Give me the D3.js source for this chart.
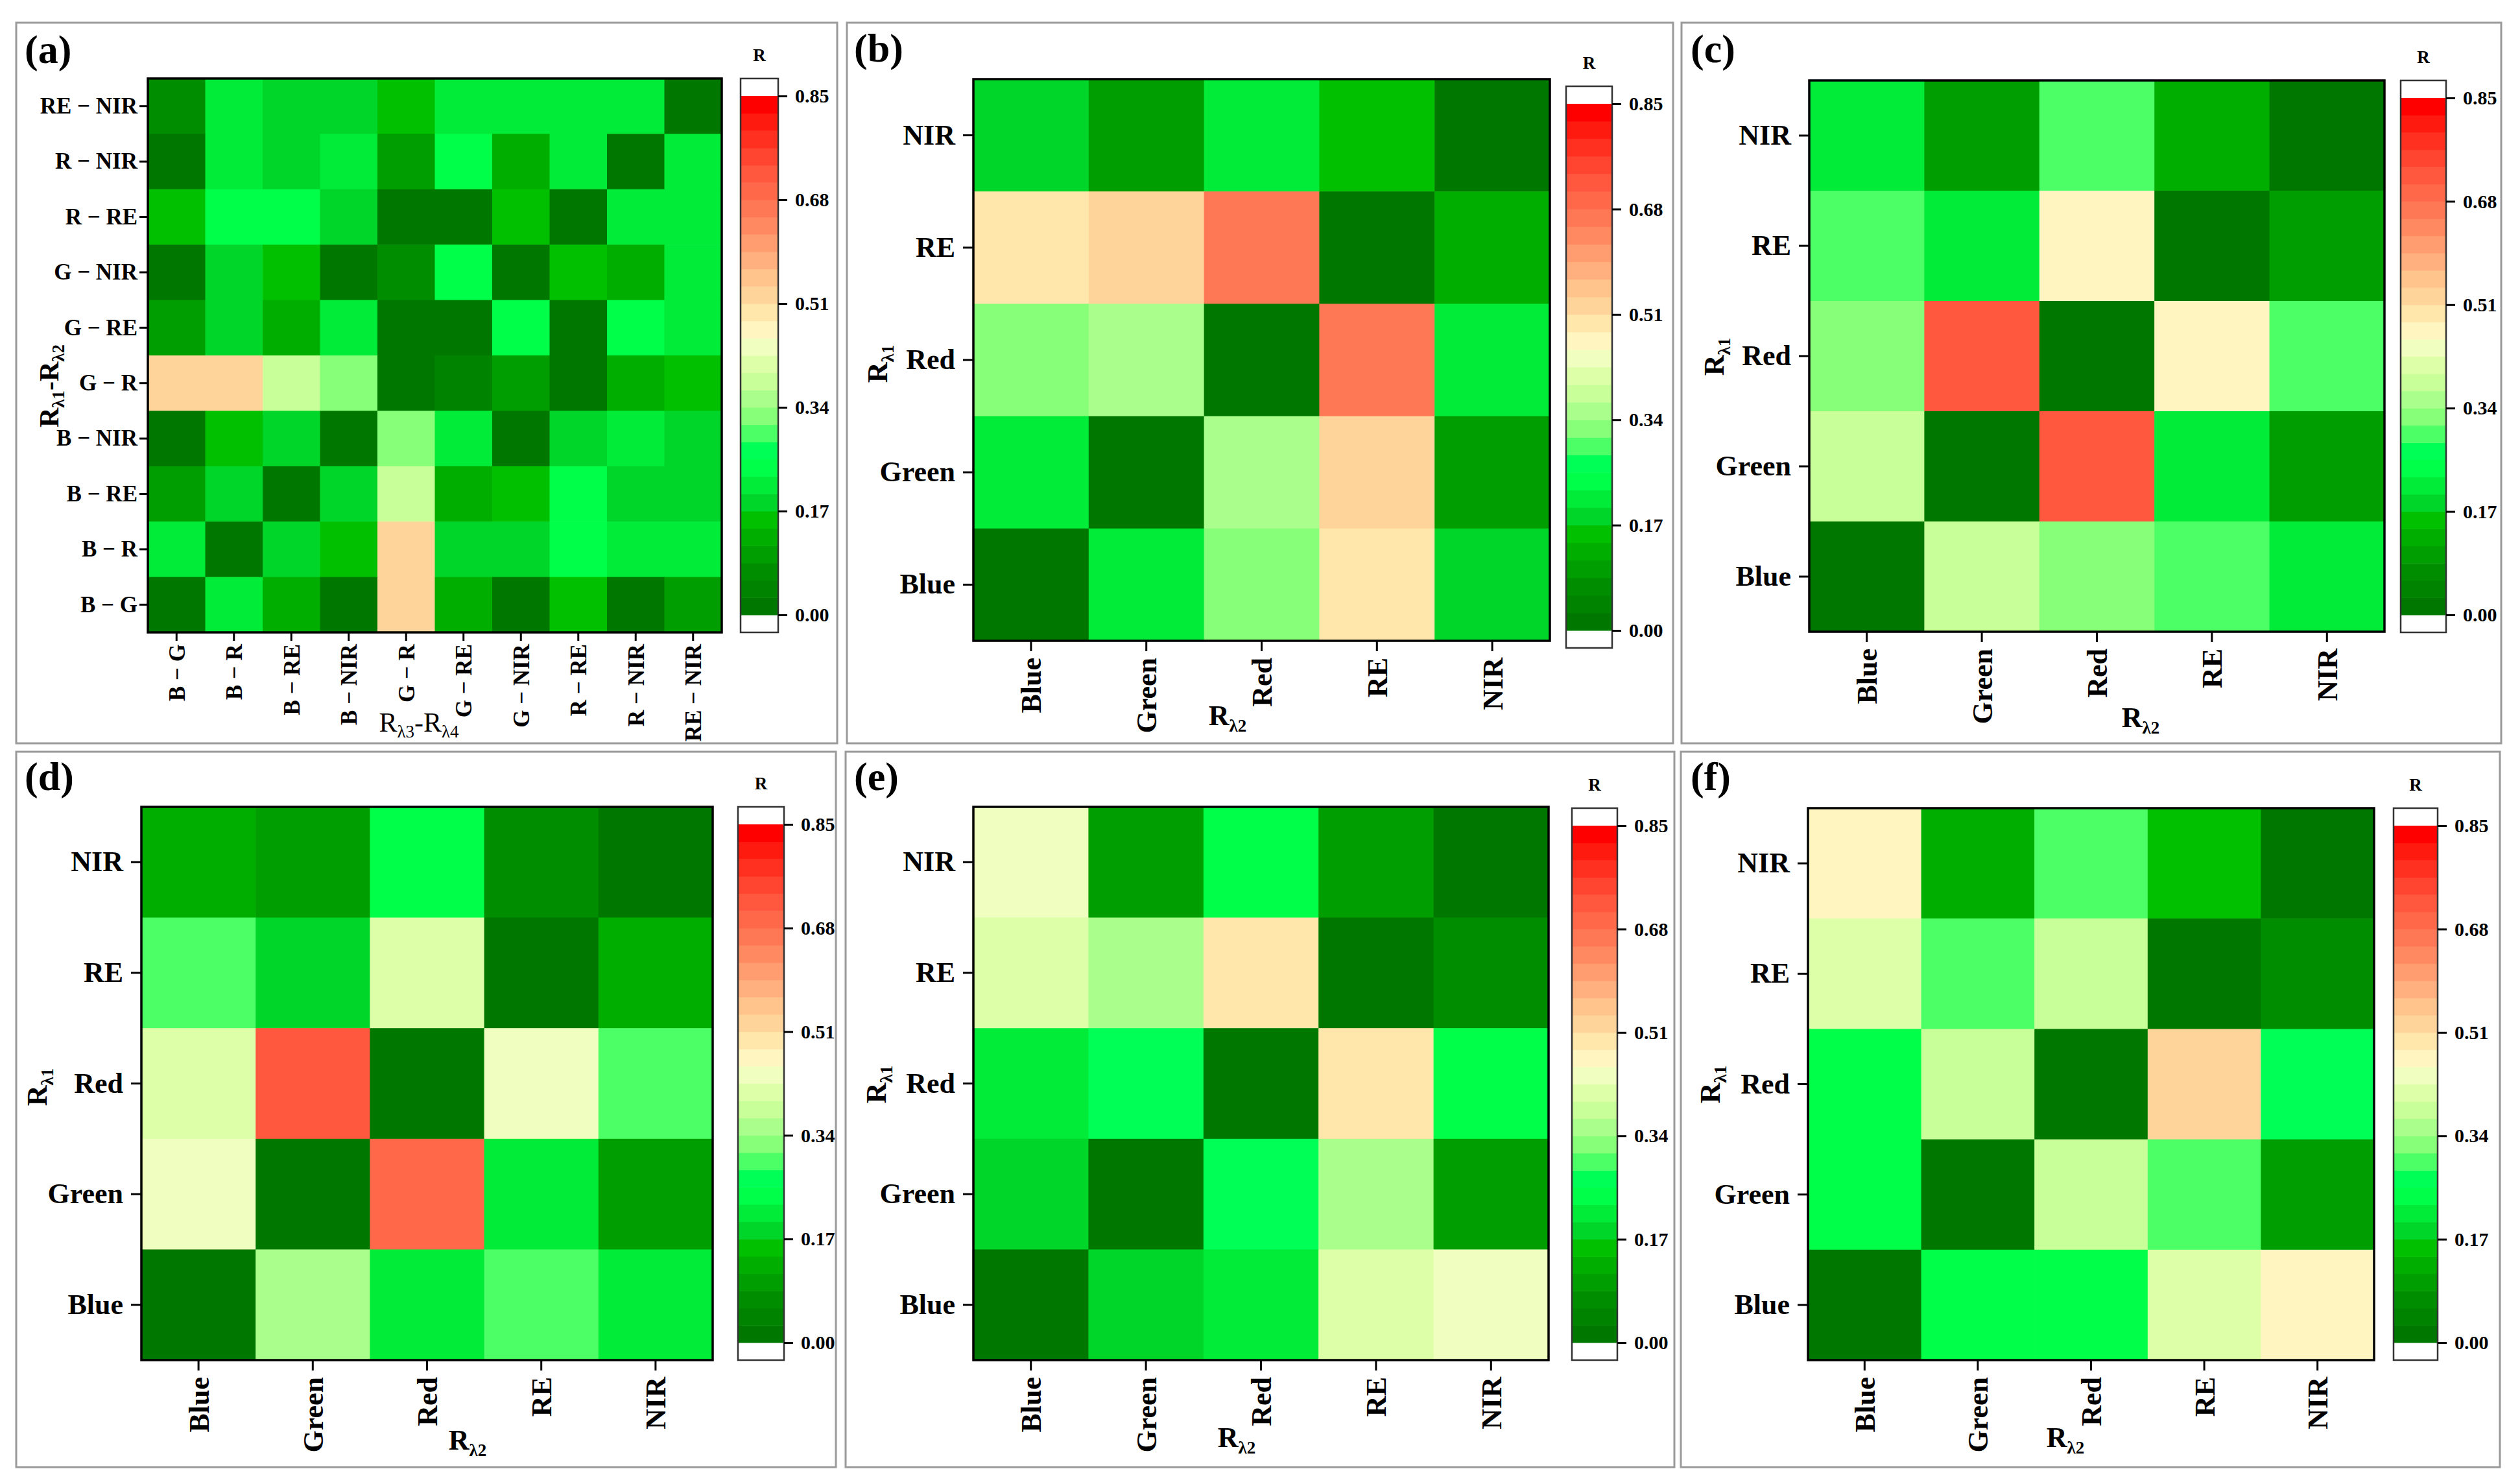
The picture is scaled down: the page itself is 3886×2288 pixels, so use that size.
<!DOCTYPE html>
<html><head><meta charset="utf-8">
<script src="https://cdn.jsdelivr.net/npm/d3@7"></script>
<style>
html,body{margin:0;padding:0;background:#fff;}
svg{display:block;}
text{font-family:"Liberation Serif","Times New Roman",serif;}
</style>
</head><body>
<svg id="chart" width="3886" height="2288"></svg>
<script>
// ---------------- DATA ----------------
const bands = ["Blue", "Green", "Red", "RE", "NIR"];
const bandPairs = ["B − G", "B − R", "B − RE", "B − NIR", "G − R", "G − RE", "G − NIR", "R − RE", "R − NIR", "RE − NIR"];
const colorbarTicks = [0.00, 0.17, 0.34, 0.51, 0.68, 0.85];
const rRange = [0, 0.85];
const panelLetters = ["(a)", "(b)", "(c)", "(d)", "(e)", "(f)"];

// rows listed top -> bottom, columns left -> right
const valuesA = [
  [0.07, 0.21, 0.19, 0.19, 0.16, 0.21, 0.21, 0.21, 0.21, 0.01], // RE − NIR
  [0.01, 0.21, 0.19, 0.22, 0.10, 0.24, 0.13, 0.21, 0.01, 0.21], // R − NIR
  [0.16, 0.24, 0.24, 0.19, 0.02, 0.02, 0.16, 0.01, 0.21, 0.21], // R − RE
  [0.01, 0.19, 0.16, 0.01, 0.07, 0.24, 0.01, 0.16, 0.13, 0.21], // G − NIR
  [0.10, 0.19, 0.13, 0.21, 0.02, 0.00, 0.24, 0.02, 0.24, 0.21], // G − RE
  [0.52, 0.52, 0.38, 0.32, 0.01, 0.04, 0.10, 0.02, 0.13, 0.16], // G − R
  [0.01, 0.16, 0.19, 0.01, 0.32, 0.21, 0.01, 0.18, 0.21, 0.19], // B − NIR
  [0.10, 0.19, 0.01, 0.19, 0.38, 0.13, 0.16, 0.24, 0.19, 0.19], // B − RE
  [0.21, 0.01, 0.19, 0.16, 0.52, 0.19, 0.19, 0.24, 0.21, 0.21], // B − R
  [0.01, 0.21, 0.13, 0.02, 0.52, 0.13, 0.02, 0.16, 0.01, 0.10]  // B − G
];
// rows: NIR, RE, Red, Green, Blue ; cols: Blue, Green, Red, RE, NIR
const valuesB = [
  [0.19, 0.10, 0.22, 0.16, 0.01],
  [0.49, 0.52, 0.67, 0.01, 0.13],
  [0.32, 0.35, 0.01, 0.67, 0.21],
  [0.21, 0.01, 0.35, 0.52, 0.10],
  [0.01, 0.21, 0.32, 0.49, 0.19]
];
const valuesC = [
  [0.21, 0.10, 0.29, 0.13, 0.01],
  [0.29, 0.21, 0.47, 0.01, 0.10],
  [0.32, 0.72, 0.01, 0.47, 0.29],
  [0.38, 0.01, 0.72, 0.21, 0.10],
  [0.01, 0.38, 0.32, 0.29, 0.21]
];
const valuesD = [
  [0.13, 0.10, 0.24, 0.07, 0.01],
  [0.29, 0.19, 0.42, 0.01, 0.13],
  [0.41, 0.72, 0.01, 0.44, 0.29],
  [0.44, 0.01, 0.69, 0.21, 0.10],
  [0.01, 0.35, 0.21, 0.29, 0.21]
];
const valuesE = [
  [0.44, 0.10, 0.24, 0.10, 0.01],
  [0.41, 0.35, 0.49, 0.01, 0.07],
  [0.21, 0.26, 0.01, 0.49, 0.24],
  [0.19, 0.01, 0.26, 0.35, 0.10],
  [0.01, 0.19, 0.21, 0.41, 0.44]
];
const valuesF = [
  [0.47, 0.13, 0.29, 0.16, 0.01],
  [0.41, 0.29, 0.38, 0.01, 0.07],
  [0.24, 0.38, 0.01, 0.52, 0.26],
  [0.24, 0.01, 0.38, 0.29, 0.10],
  [0.01, 0.24, 0.24, 0.41, 0.47]
];

// ---------------- STYLE ----------------
const palette = [
  "#007800", "#008400", "#008e00", "#009e00", "#00ae00", "#00c000",
  "#00d62a", "#00ec38", "#00ff48", "#00ff56", "#4cff66", "#88ff78",
  "#aaff8c", "#c8ff98", "#ddffa8", "#f0ffc0", "#fff5c0", "#ffe6aa",
  "#ffd49a", "#ffc48c", "#ffb07e", "#ff9c70", "#ff8a62", "#ff7856",
  "#ff6848", "#ff583e", "#ff4430", "#ff3020", "#ff1a10", "#ff0000"
];
const color = d3.scaleQuantize().domain(rRange).range(palette);

const layout = [
  {frame:[25,35,1291,1146], heat:[228,121,1113,975], cbar:[1142,121,1200,975], xt:[646,1128], yt:[90,595], fs:35, tick:13, ygap:3, xgap:5, xbold:false, lab:[38,97]},
  {frame:[1306,35,2580,1146], heat:[1501,122,2390,988], cbar:[2415,133,2486,999], xt:[1893,1118], yt:[1368,561], fs:44, tick:16, ygap:12, xgap:10, xbold:true, lab:[1317,95]},
  {frame:[2593,35,3857,1146], heat:[2790,124,3677,974], cbar:[3702,124,3772,975], xt:[3301,1121], yt:[2658,550], fs:44, tick:16, ygap:12, xgap:10, xbold:true, lab:[2607,96]},
  {frame:[25,1159,1289,2262], heat:[218,1244,1099,2097], cbar:[1138,1244,1209,2097], xt:[721,2235], yt:[72,1676], fs:44, tick:16, ygap:12, xgap:10, xbold:true, lab:[38,1218]},
  {frame:[1304,1159,2582,2262], heat:[1501,1244,2388,2097], cbar:[2424,1246,2494,2097], xt:[1907,2231], yt:[1366,1672], fs:44, tick:16, ygap:12, xgap:10, xbold:true, lab:[1317,1218]},
  {frame:[2592,1159,3855,2262], heat:[2788,1246,3661,2097], cbar:[3691,1246,3759,2097], xt:[3185,2231], yt:[2652,1672], fs:44, tick:16, ygap:12, xgap:10, xbold:true, lab:[2607,1218]}
];

const panelsData = [
  {vals: valuesA, cols: bandPairs, rows: bandPairs.slice().reverse(), xTitle:[["R",""],["λ3","sub"],["-R",""],["λ4","sub"]], yTitle:[["R",""],["λ1","sub"],["-R",""],["λ2","sub"]]},
  {vals: valuesB, cols: bands, rows: bands.slice().reverse(), xTitle:[["R",""],["λ2","sub"]], yTitle:[["R",""],["λ1","sub"]]},
  {vals: valuesC, cols: bands, rows: bands.slice().reverse(), xTitle:[["R",""],["λ2","sub"]], yTitle:[["R",""],["λ1","sub"]]},
  {vals: valuesD, cols: bands, rows: bands.slice().reverse(), xTitle:[["R",""],["λ2","sub"]], yTitle:[["R",""],["λ1","sub"]]},
  {vals: valuesE, cols: bands, rows: bands.slice().reverse(), xTitle:[["R",""],["λ2","sub"]], yTitle:[["R",""],["λ1","sub"]]},
  {vals: valuesF, cols: bands, rows: bands.slice().reverse(), xTitle:[["R",""],["λ2","sub"]], yTitle:[["R",""],["λ1","sub"]]}
];

const svg = d3.select("#chart");
svg.append("rect").attr("width",3886).attr("height",2288).attr("fill","#fff");

function addSubText(g, parts, big, small, bold) {
  const t = g.append("text").attr("font-weight", bold ? "bold" : "normal").attr("fill","#000");
  let shifted = false;
  parts.forEach(([s, kind]) => {
    const ts = t.append("tspan").text(s);
    if (kind === "sub") {
      ts.attr("font-size", small).attr("dy", shifted ? 0 : big*0.22);
      shifted = true;
    } else {
      ts.attr("font-size", big).attr("dy", shifted ? -big*0.22 : 0);
      shifted = false;
    }
  });
  return t;
}

panelsData.forEach((p, i) => {
  const L = layout[i];
  const g = svg.append("g");
  // frame
  g.append("rect")
    .attr("x", L.frame[0]).attr("y", L.frame[1])
    .attr("width", L.frame[2]-L.frame[0]).attr("height", L.frame[3]-L.frame[1])
    .attr("fill", "#fff").attr("stroke", "#9a9a9a").attr("stroke-width", 3);
  // panel letter
  g.append("text").attr("x", L.lab[0]).attr("y", L.lab[1])
    .attr("font-size", 62).attr("font-weight","bold").text(panelLetters[i]);

  const x = d3.scaleBand().domain(p.cols).range([L.heat[0], L.heat[2]]);
  const y = d3.scaleBand().domain(p.rows).range([L.heat[1], L.heat[3]]);

  const cells = [];
  p.vals.forEach((row, ri) => row.forEach((v, ci) => cells.push({r: p.rows[ri], c: p.cols[ci], v})));
  g.append("g").selectAll("rect").data(cells).join("rect")
    .attr("x", d => x(d.c)).attr("y", d => y(d.r))
    .attr("width", x.bandwidth()+0.6).attr("height", y.bandwidth()+0.6)
    .attr("fill", d => color(d.v));
  g.append("rect")
    .attr("x", L.heat[0]).attr("y", L.heat[1])
    .attr("width", L.heat[2]-L.heat[0]).attr("height", L.heat[3]-L.heat[1])
    .attr("fill","none").attr("stroke","#000").attr("stroke-width",3.5);

  // y axis
  const ya = g.append("g").attr("transform", `translate(${L.heat[0]},0)`)
    .call(d3.axisLeft(y).tickSize(L.tick).tickPadding(L.ygap));
  ya.select(".domain").remove();
  ya.selectAll(".tick line").attr("stroke","#000").attr("stroke-width",3);
  ya.selectAll(".tick text").attr("font-size", L.fs).attr("font-weight","bold")
    .attr("font-family","Liberation Serif, Times New Roman, serif").attr("fill","#000");

  // x axis
  const xa = g.append("g").attr("transform", `translate(0,${L.heat[3]})`)
    .call(d3.axisBottom(x).tickSize(L.tick));
  xa.select(".domain").remove();
  xa.selectAll(".tick line").attr("stroke","#000").attr("stroke-width",3);
  xa.selectAll(".tick text")
    .attr("font-size", L.fs).attr("font-weight","bold")
    .attr("font-family","Liberation Serif, Times New Roman, serif").attr("fill","#000")
    .attr("transform","rotate(-90)").attr("text-anchor","end")
    .attr("x", -(L.tick + L.xgap)).attr("y", 0).attr("dy","0.35em");

  // axis titles
  const big = i === 0 ? 42 : 44, small = 27;
  addSubText(g, p.xTitle, big, small, L.xbold)
    .attr("x", L.xt[0]).attr("y", L.xt[1]).attr("text-anchor","middle");
  addSubText(g, p.yTitle, big, small, true)
    .attr("text-anchor","middle")
    .attr("transform", `translate(${L.yt[0]},${L.yt[1]}) rotate(-90)`);

  // colorbar
  const cap = 27;
  const cb = L.cbar;
  const cy = d3.scaleLinear().domain(rRange).range([cb[3]-cap, cb[1]+cap]);
  const step = (rRange[1]-rRange[0]) / palette.length;
  const cg = g.append("g");
  cg.append("rect").attr("x", cb[0]).attr("y", cb[1]).attr("width", cb[2]-cb[0]).attr("height", cb[3]-cb[1]).attr("fill","#fff");
  cg.selectAll("rect.band").data(palette).join("rect").attr("class","band")
    .attr("x", cb[0]).attr("width", cb[2]-cb[0])
    .attr("y", (c, k) => cy(rRange[0] + (k+1)*step))
    .attr("height", (c, k) => cy(rRange[0] + k*step) - cy(rRange[0] + (k+1)*step) + 0.5)
    .attr("fill", c => c);
  cg.append("rect").attr("x", cb[0]).attr("y", cb[1]).attr("width", cb[2]-cb[0]).attr("height", cb[3]-cb[1])
    .attr("fill","none").attr("stroke","#333").attr("stroke-width",2.5);
  const ca = cg.append("g").attr("transform", `translate(${cb[2]},0)`)
    .call(d3.axisRight(cy).tickValues(colorbarTicks).tickFormat(d3.format(".2f")).tickSize(14).tickPadding(12));
  ca.select(".domain").remove();
  ca.selectAll(".tick line").attr("stroke","#000").attr("stroke-width",3);
  ca.selectAll(".tick text").attr("font-size", 30).attr("font-weight","bold")
    .attr("font-family","Liberation Serif, Times New Roman, serif").attr("fill","#000");
  cg.append("text").attr("x", (cb[0]+cb[2])/2).attr("y", cb[1]-27)
    .attr("text-anchor","middle").attr("font-size",27).attr("font-weight","bold").text("R");
});
</script>
</body></html>
